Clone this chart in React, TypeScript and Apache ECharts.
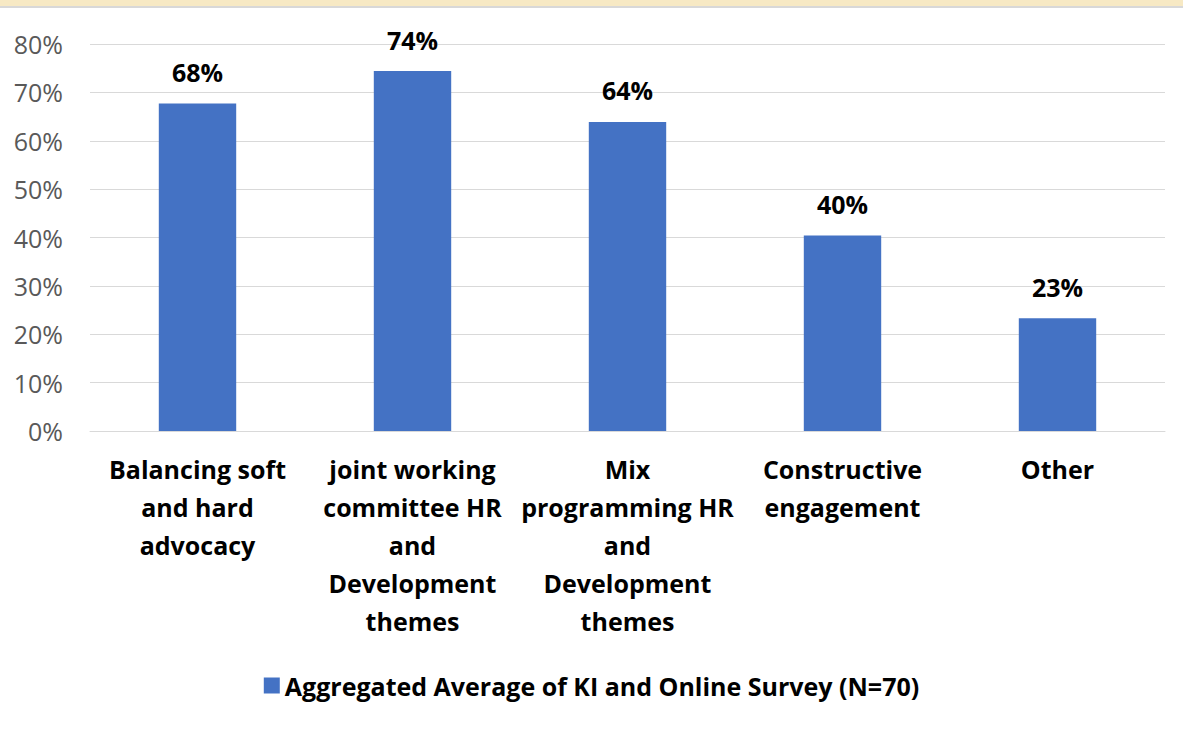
import React, { useEffect, useRef } from "react";
import * as echarts from "echarts";

const categories = [
  "Balancing soft\nand hard\nadvocacy",
  "joint working\ncommittee HR\nand\nDevelopment\nthemes",
  "Mix\nprogramming HR\nand\nDevelopment\nthemes",
  "Constructive\nengagement",
  "Other",
];
const values = [67.7, 74.4, 63.9, 40.4, 23.3];
const seriesName = "Aggregated Average of KI and Online Survey (N=70)";
const yTicks = [0, 10, 20, 30, 40, 50, 60, 70, 80];

const FONT = "'Open Sans', 'Noto Sans', sans-serif";

export default function App() {
  const ref = useRef<HTMLDivElement>(null);
  useEffect(() => {
    document.body.style.margin = "0";
    const chart = echarts.init(ref.current!, null, { renderer: "svg" });
    chart.setOption({
      animation: false,
      backgroundColor: "#ffffff",
      textStyle: { fontFamily: FONT },
      graphic: [
        { type: "rect", shape: { x: 0, y: 0, width: 1183, height: 6 }, style: { fill: "#f7e9c4" } },
        { type: "rect", shape: { x: 0, y: 6, width: 1183, height: 2 }, style: { fill: "#d8d8d8" } },
      ],
      grid: { left: 90, right: 18, top: 44, bottom: 300, containLabel: false },
      xAxis: {
        type: "category",
        data: categories,
        axisLine: { show: true, lineStyle: { color: "#d9d9d9", width: 1 } },
        axisTick: { show: false },
        axisLabel: {
          interval: 0,
          color: "#000000",
          fontWeight: "bold",
          fontSize: 25,
          lineHeight: 38,
          margin: 19,
          fontFamily: FONT,
        },
      },
      yAxis: {
        type: "value",
        min: 0,
        max: 80,
        interval: 10,
        axisLine: { show: false },
        axisTick: { show: false },
        splitLine: { lineStyle: { color: "#d9d9d9", width: 1 } },
        axisLabel: {
          color: "#595959",
          fontSize: 25,
          margin: 27,
          fontFamily: FONT,
          formatter: (v: number) => (yTicks.includes(v) ? v + "%" : ""),
        },
      },
      legend: {
        bottom: 28,
        left: "center",
        itemWidth: 16,
        itemHeight: 16,
        icon: "rect",
        itemGap: 8,
        textStyle: { fontSize: 25, fontWeight: "bold", color: "#000000", fontFamily: FONT },
        data: [seriesName],
      },
      series: [
        {
          name: seriesName,
          type: "bar",
          data: values,
          barWidth: "36%",
          itemStyle: { color: "#4472C4" },
          label: {
            show: true,
            position: "top",
            distance: 19,
            color: "#000000",
            fontWeight: "bold",
            fontSize: 25,
            fontFamily: FONT,
            formatter: (p: any) => Math.round(p.value) + "%",
          },
        },
      ],
    });
    return () => chart.dispose();
  }, []);
  return <div ref={ref} style={{ position: "absolute", left: 0, top: 0, width: 1183, height: 731 }} />;
}
